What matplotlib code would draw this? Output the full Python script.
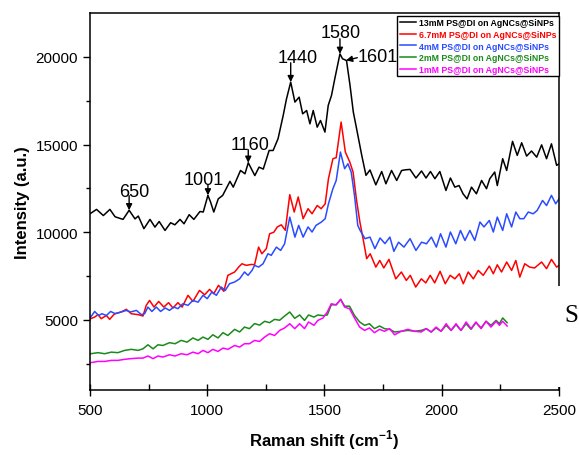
import matplotlib
matplotlib.use("Agg")
import matplotlib.pyplot as plt
import numpy as np
from matplotlib.patches import Rectangle

plt.rcParams["font.family"] = ["Liberation Sans", "DejaVu Sans"]
plt.rcParams["mathtext.fontset"] = "custom"
plt.rcParams["mathtext.bf"] = "Liberation Sans:bold"
plt.rcParams["mathtext.rm"] = "Liberation Sans"

# Raman spectra (shift in cm-1, intensity a.u.)
x_13 = [500, 528, 557, 585, 607, 641, 667, 692, 706, 730, 756, 777, 795, 820, 844, 862, 884, 901,
        923, 943, 969, 983, 1003, 1014, 1028, 1047, 1066, 1097, 1111, 1142, 1161, 1175, 1203, 1221,
        1239, 1264, 1281, 1302, 1324, 1338, 1356, 1374, 1392, 1407, 1424, 1438, 1452, 1469, 1483,
        1502, 1516, 1530, 1544, 1566, 1577, 1594, 1609, 1623, 1637, 1659, 1677, 1694, 1719, 1744,
        1762, 1786, 1808, 1829, 1847, 1865, 1890, 1914, 1933, 1952, 1971, 1992, 2018, 2037, 2056,
        2074, 2091, 2108, 2127, 2148, 2170, 2191, 2205, 2226, 2237, 2260, 2277, 2302, 2322, 2341,
        2362, 2383, 2405, 2426, 2447, 2468, 2490, 2500]
y_13 = [11050, 11300, 10950, 11300, 10880, 10730, 11250, 10760, 10920, 10200, 10730, 10290, 10610,
        10100, 10540, 10420, 10730, 10480, 11000, 10730, 11180, 11150, 12100, 11730, 11150, 11900,
        12100, 12900, 12570, 13520, 13330, 13960, 13230, 13710, 13600, 14660, 14660, 15330, 16660,
        17600, 18560, 17420, 17700, 16750, 16940, 16180, 16940, 15990, 16370, 15710, 17230, 17800,
        18750, 20170, 19890, 19790, 18370, 16850, 15900, 14380, 13240, 13550, 12700, 13460, 12760,
        13520, 12950, 13520, 13560, 13580, 13090, 13490, 13090, 13460, 13050, 13460, 12380, 13090,
        12570, 12660, 12190, 11900, 12570, 12190, 12950, 12480, 13050, 13430, 12660, 14190, 13520,
        15180, 14380, 15100, 14340, 14630, 14280, 14980, 14190, 15040, 13810, 13900]

x_67 = [500, 520, 534, 548, 570, 584, 605, 633, 655, 676, 705, 726, 740, 754, 773, 793, 815, 835,
        854, 875, 893, 918, 939, 967, 989, 1010, 1028, 1048, 1071, 1088, 1117, 1134, 1148, 1166,
        1188, 1202, 1219, 1233, 1252, 1266, 1284, 1299, 1316, 1333, 1352, 1371, 1388, 1409, 1430,
        1447, 1469, 1486, 1503, 1517, 1536, 1550, 1571, 1589, 1608, 1622, 1636, 1651, 1665, 1680,
        1695, 1719, 1736, 1753, 1775, 1804, 1828, 1849, 1866, 1889, 1913, 1932, 1951, 1970, 1993,
        2015, 2036, 2056, 2075, 2092, 2113, 2135, 2156, 2177, 2203, 2220, 2237, 2255, 2277, 2298,
        2316, 2333, 2354, 2375, 2396, 2426, 2447, 2468, 2490, 2500]
y_67 = [5050, 5160, 5300, 5070, 5250, 5030, 5350, 5450, 5600, 5350, 5300, 5220, 5830, 6110, 5730,
        6050, 5730, 5980, 5680, 5980, 5730, 6400, 6050, 6680, 6430, 6740, 6490, 6970, 6630, 7540,
        7730, 8010, 8200, 8110, 8160, 8150, 9150, 8770, 9060, 9910, 10000, 10300, 10420, 10110,
        12140, 11150, 12010, 10770, 11340, 11050, 11520, 11340, 11620, 13050, 14190, 14250, 16280,
        14570, 14000, 13430, 11900, 10580, 9600, 8490, 8770, 8010, 8390, 7960, 8450, 7340, 7730,
        7250, 7540, 6870, 7340, 7110, 7540, 7110, 7770, 7060, 7540, 7340, 7630, 7060, 7730, 7340,
        7820, 7540, 8070, 7630, 8140, 7730, 8300, 7820, 8390, 7440, 8200, 8010, 7960, 8300, 7920,
        8450, 8010, 8100]

x_4 = [500, 520, 537, 551, 570, 588, 608, 633, 655, 673, 698, 719, 733, 747, 764, 783, 801, 821,
       839, 858, 875, 896, 918, 939, 961, 982, 1000, 1020, 1039, 1060, 1077, 1095, 1117, 1138,
       1159, 1174, 1191, 1202, 1219, 1238, 1259, 1273, 1295, 1313, 1330, 1352, 1374, 1390, 1409,
       1430, 1447, 1464, 1487, 1503, 1517, 1536, 1550, 1568, 1586, 1600, 1614, 1628, 1642, 1652,
       1673, 1694, 1715, 1737, 1758, 1779, 1796, 1816, 1839, 1865, 1890, 1914, 1935, 1956, 1977,
       1995, 2018, 2037, 2060, 2080, 2099, 2120, 2141, 2163, 2180, 2203, 2220, 2237, 2260, 2277,
       2298, 2316, 2333, 2350, 2369, 2390, 2407, 2430, 2447, 2468, 2486, 2500]
y_4 = [5100, 5480, 5250, 5350, 5250, 5480, 5350, 5450, 5540, 5450, 5540, 5300, 5350, 5730, 5480,
       5730, 5480, 5680, 5540, 5730, 5640, 5920, 5830, 6110, 6010, 6400, 6210, 6590, 6400, 6870,
       6680, 7060, 7160, 7340, 7730, 7540, 7820, 8110, 8010, 8200, 8770, 8680, 9150, 8960, 9340,
       10860, 9720, 10390, 9720, 10300, 10010, 10390, 10580, 10770, 11620, 12480, 12950, 14570,
       13620, 13900, 13430, 12100, 10390, 10100, 9630, 9720, 9060, 9670, 9350, 9720, 8910, 9430,
       9150, 9630, 8960, 9430, 9340, 9720, 9150, 9910, 9150, 10010, 9340, 10100, 9530, 10100, 9530,
       10580, 10300, 10670, 10010, 10860, 10100, 11050, 10300, 11150, 10770, 10770, 11150, 11050,
       11240, 11810, 11520, 12100, 11620, 11900]

x_low = [503, 534, 563, 591, 619, 648, 676, 705, 726, 747, 769, 790, 811, 839, 863, 889, 914, 939,
         961, 982, 1003, 1024, 1046, 1067, 1088, 1117, 1138, 1159, 1180, 1202, 1223, 1245, 1266,
         1287, 1309, 1330, 1352, 1373, 1394, 1415, 1432, 1455, 1472, 1494, 1512, 1529, 1550, 1569,
         1586, 1607, 1628, 1650, 1671, 1692, 1713, 1735, 1756, 1778, 1799, 1827, 1856, 1884, 1913,
         1934, 1955, 1976, 1997, 2019, 2040, 2061, 2082, 2104, 2125, 2146, 2168, 2189, 2210, 2232,
         2246, 2260, 2279]
y_2 = [3070, 3130, 3070, 3160, 3130, 3260, 3320, 3260, 3350, 3580, 3350, 3580, 3540, 3700, 3640,
       3830, 3730, 3970, 3830, 4020, 3890, 4150, 3970, 4270, 4110, 4460, 4310, 4590, 4500, 4790,
       4700, 4920, 4840, 5030, 4980, 5220, 5450, 5090, 5280, 4970, 5280, 5160, 5280, 5240, 5280,
       5860, 5860, 6170, 5780, 5780, 5250, 4880, 4690, 4780, 4500, 4650, 4500, 4460, 4310, 4350,
       4400, 4350, 4400, 4500, 4310, 4540, 4350, 4690, 4400, 4730, 4400, 4780, 4460, 4840, 4540,
       4920, 4690, 4970, 4780, 5110, 4840]
y_1 = [2560, 2630, 2630, 2690, 2690, 2750, 2790, 2820, 2820, 2940, 2790, 2940, 2880, 3010, 2940,
       3070, 3010, 3160, 3070, 3260, 3130, 3320, 3200, 3390, 3320, 3540, 3450, 3640, 3640, 3830,
       3770, 4020, 4210, 4110, 4400, 4540, 4780, 4500, 4780, 4500, 4880, 4690, 4970, 5110, 5450,
       5920, 5860, 6170, 5730, 5630, 5110, 4590, 4400, 4540, 4270, 4460, 4350, 4500, 4150, 4350,
       4460, 4350, 4310, 4500, 4310, 4590, 4350, 4780, 4400, 4780, 4400, 4880, 4500, 4880, 4500,
       4920, 4590, 4920, 4690, 4920, 4650]

labels = ["13mM PS@DI on AgNCs@SiNPs", "6.7mM PS@DI on AgNCs@SiNPs", "4mM PS@DI on AgNCs@SiNPs",
          "2mM PS@DI on AgNCs@SiNPs", "1mM PS@DI on AgNCs@SiNPs"]
colors = ["black", "#ff0000", "#2a4bff", "#1a8a1a", "#ff00ff"]

# peak labels: text, peak (x, y), arrow tail y, label centre x, label baseline y
peaks = [("650", 667, 11250, 12080, 688, 12080),
         ("1001", 1003, 12100, 12700, 986, 12760),
         ("1160", 1175, 13960, 14700, 1182, 14760),
         ("1440", 1356, 18560, 19660, 1385, 19715),
         ("1580", 1566, 20170, 21030, 1570, 21140)]

fig = plt.figure(figsize=(5.79, 4.56), dpi=100)
ax = fig.add_axes([0.1554, 0.1425, 0.81, 0.8268])

series = [(x_13, y_13), (x_67, y_67), (x_4, y_4), (x_low, y_2), (x_low, y_1)]
for (xs, ys), lab, c in zip(series, labels, colors):
    ax.plot(xs, ys, color=c, lw=1.1, label=lab)

arrow_kw = dict(arrowstyle="-|>", color="k", lw=1, mutation_scale=9, shrinkA=0, shrinkB=0)
for txt, px, py, ay, tx, ty in peaks:
    ax.annotate("", xy=(px, py), xytext=(px, ay), arrowprops=arrow_kw)
    ax.text(tx, ty, txt, ha="center", va="baseline", fontsize=13)
ax.annotate("", xy=(1592, 19800), xytext=(1640, 19950), arrowprops=arrow_kw)
ax.text(1641, 20030, "1601", ha="left", va="center", fontsize=13, zorder=6)

ax.set_xlim(500, 2500)
ax.set_ylim(1000, 22500)
ax.set_xticks([500, 1000, 1500, 2000, 2500])
ax.set_xticks([750, 1250, 1750, 2250], minor=True)
ax.set_yticks([5000, 10000, 15000, 20000])
ax.set_yticks([2500, 7500, 12500, 17500], minor=True)
ax.tick_params(axis="x", which="major", direction="inout", length=8, width=1, labelsize=11, pad=5)
ax.tick_params(axis="x", which="minor", direction="in", length=4, width=1)
ax.tick_params(axis="y", which="major", direction="out", length=5, width=1, labelsize=11)
ax.tick_params(axis="y", which="minor", direction="out", length=3, width=1)
for s in ax.spines.values():
    s.set_linewidth(1.1)

ax.set_xlabel("Raman shift (cm$^{\\mathbf{-1}}$)", fontsize=12, fontweight="bold", labelpad=8)
ax.set_ylabel("Intensity (a.u.)", fontsize=12, fontweight="bold", labelpad=4)

leg = ax.legend(loc="upper right", bbox_to_anchor=(1.0, 0.993), borderaxespad=0,
                frameon=True, fancybox=False, edgecolor="black", framealpha=1,
                prop=dict(weight="bold", size=6.3), handlelength=1.9, handletextpad=0.3,
                labelspacing=0.3, borderpad=0.3)
leg.get_frame().set_linewidth(1.0)
for t, c in zip(leg.get_texts(), colors):
    t.set_color(c)

# white patch over part of the right spine, with the stray "S"
fig.patches.append(Rectangle((556 / 579, (456 - 388) / 456), 23 / 579, 101 / 456,
                             transform=fig.transFigure, facecolor="white",
                             edgecolor="none", zorder=10))
fig.text(571 / 579, 1 - 316 / 456, "S", family="Liberation Serif", fontsize=18,
         ha="center", va="center", zorder=11)

fig.savefig("out.png", dpi=100, facecolor="white")
